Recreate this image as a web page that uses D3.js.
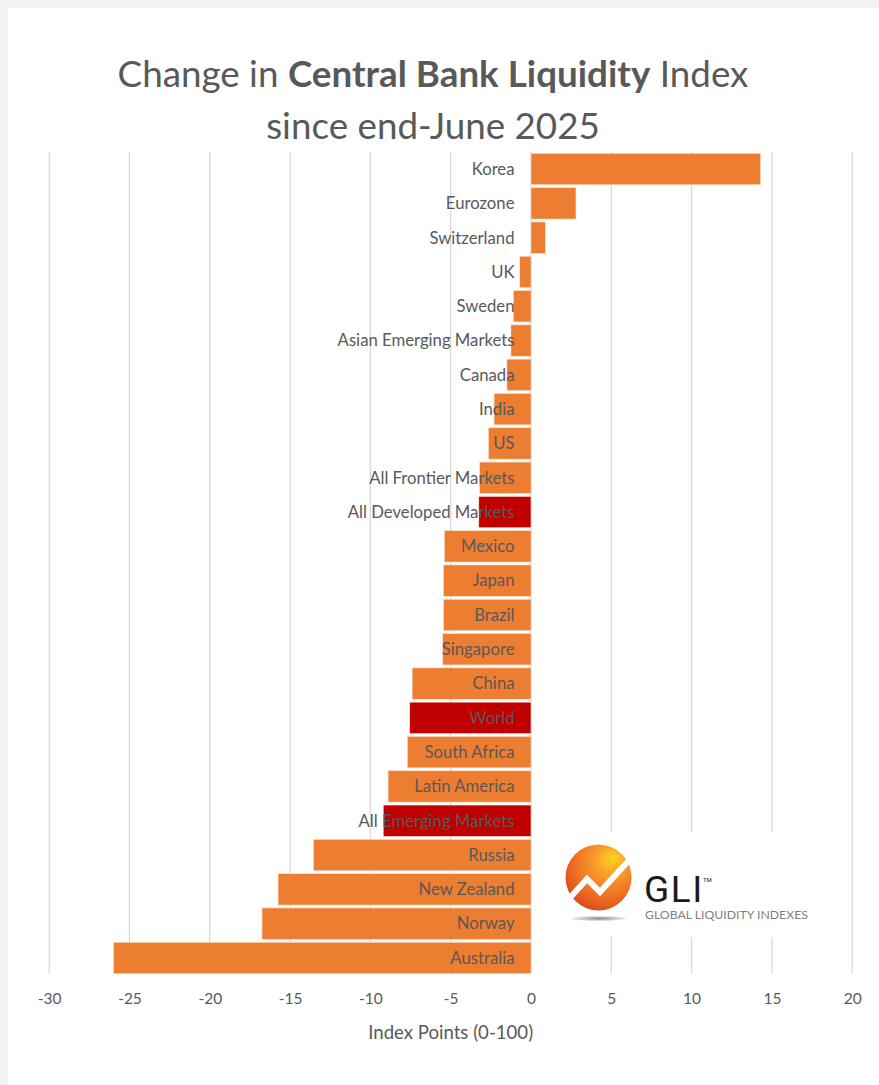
<!DOCTYPE html>
<html>
<head>
<meta charset="utf-8">
<script src="https://cdn.jsdelivr.net/npm/d3@7"></script>
<style>
  html, body { margin: 0; padding: 0; background: #f2f2f2; }
  svg { display: block; }
</style>
</head>
<body>
<svg id="chart" width="879" height="1085"></svg>
<script>
// Change in central bank liquidity index since end-June 2025 (index points, 0-100 scale)
const categories = [
  "Korea", "Eurozone", "Switzerland", "UK", "Sweden", "Asian Emerging Markets",
  "Canada", "India", "US", "All Frontier Markets", "All Developed Markets",
  "Mexico", "Japan", "Brazil", "Singapore", "China", "World", "South Africa",
  "Latin America", "All Emerging Markets", "Russia", "New Zealand", "Norway", "Australia"
];
const values = [
  14.3, 2.8, 0.9, -0.7, -1.1, -1.25,
  -1.5, -2.3, -2.65, -3.2, -3.25,
  -5.4, -5.45, -5.45, -5.5, -7.4, -7.55, -7.7,
  -8.9, -9.2, -13.55, -15.75, -16.75, -26.0
];
// Aggregate groupings are highlighted in dark red
const aggregates = ["All Developed Markets", "World", "All Emerging Markets"];
const xTicks = [-30, -25, -20, -15, -10, -5, 0, 5, 10, 15, 20];
const titleParts = [
  { text: "Change in ", bold: false },
  { text: "Central Bank Liquidity", bold: true },
  { text: " Index", bold: false }
];
const titleLine2 = "since end-June 2025";
const axisTitle = "Index Points (0-100)";

const W = 879, H = 1085;
const FONT = "Lato, 'Open Sans', sans-serif";
const TEXT = "#595959";
const ORANGE = "#ED7D31";
const RED = "#C00000";

const svg = d3.select("#chart");

// Chart panel
svg.append("rect").attr("x", 8).attr("y", 8).attr("width", W - 8).attr("height", H - 8).attr("fill", "#ffffff");

const x = d3.scaleLinear().domain([-30, 20]).range([49.2, 852.2]);
const y = d3.scaleBand().domain(categories).range([152, 975]).paddingInner(0.085).paddingOuter(0.04);
const gridTop = 152, gridBottom = 973.5;

// Helper: font size that makes a string a given width
function fitSize(str, weight, target, base) {
  const t = svg.append("text").attr("font-family", FONT).attr("font-weight", weight)
    .attr("font-size", base).text(str);
  const w = t.node().getComputedTextLength();
  t.remove();
  return base * target / w;
}

// Vertical gridlines
svg.append("g").selectAll("line").data(xTicks).join("line")
  .attr("x1", d => x(d)).attr("x2", d => x(d))
  .attr("y1", gridTop).attr("y2", gridBottom)
  .attr("stroke", "#d9d9d9").attr("stroke-width", 1.3);

// Bars
const data = categories.map((c, i) => ({ c, v: values[i] }));
svg.append("g").selectAll("rect").data(data).join("rect")
  .attr("x", d => x(Math.min(0, d.v)))
  .attr("width", d => Math.abs(x(d.v) - x(0)))
  .attr("y", d => y(d.c))
  .attr("height", y.bandwidth())
  .attr("fill", d => aggregates.includes(d.c) ? RED : ORANGE)
  .attr("stroke", "#fbe3d3").attr("stroke-width", 0.6);

// Category labels, right-aligned just left of zero
const labelSize = fitSize("Asian Emerging Markets", 400, 177, 16);
svg.append("g").selectAll("text").data(data).join("text")
  .attr("x", x(0) - 16.5)
  .attr("y", d => y(d.c) + y.bandwidth() / 2)
  .attr("dy", "0.35em")
  .attr("text-anchor", "end")
  .attr("font-family", FONT).attr("font-size", labelSize)
  .attr("fill", TEXT)
  .text(d => d.c);

// X axis tick labels
const axis = d3.axisBottom(x).tickValues(xTicks).tickSize(0).tickPadding(0).tickFormat(d3.format("d"));
const gAxis = svg.append("g").attr("transform", `translate(0, ${gridBottom})`).call(axis);
gAxis.select(".domain").remove();
gAxis.selectAll("text")
  .attr("y", 25).attr("dy", "0.35em")
  .attr("font-family", FONT).attr("font-size", 15.5).attr("fill", TEXT)
  .text(d => d < 0 ? "-" + Math.abs(d) : d);

// Axis title
const axisSize = fitSize(axisTitle, 400, 165, 16);
svg.append("text")
  .attr("x", (x(-30) + x(20)) / 2).attr("y", 1032).attr("dy", "0.35em")
  .attr("text-anchor", "middle")
  .attr("font-family", FONT).attr("font-size", axisSize).attr("fill", TEXT)
  .text(axisTitle);

// Title
const titleCx = 433;
function titleLine1(size) {
  const t = svg.append("text").attr("x", titleCx).attr("y", 87)
    .attr("text-anchor", "middle").attr("font-family", FONT)
    .attr("font-size", size).attr("fill", TEXT);
  t.selectAll("tspan").data(titleParts).join("tspan")
    .attr("font-weight", d => d.bold ? 700 : 400)
    .text(d => d.text);
  return t;
}
const probe = titleLine1(40);
const probeW = probe.node().getComputedTextLength();
probe.remove();
const titleSize = 40 * 631 / probeW;
titleLine1(titleSize);
svg.append("text").attr("x", titleCx).attr("y", 139)
  .attr("text-anchor", "middle").attr("font-family", FONT)
  .attr("font-size", titleSize).attr("fill", TEXT)
  .text(titleLine2);

// GLI logo
const logo = svg.append("g");
logo.append("rect").attr("x", 558).attr("y", 832).attr("width", 282).attr("height", 105).attr("fill", "#ffffff");
const defs = svg.append("defs");
const grad = defs.append("radialGradient").attr("id", "orb")
  .attr("cx", "0.62").attr("cy", "0.32").attr("r", "0.75")
  .attr("fx", "0.72").attr("fy", "0.2");
grad.append("stop").attr("offset", "0%").attr("stop-color", "#ffd321");
grad.append("stop").attr("offset", "30%").attr("stop-color", "#f9a02a");
grad.append("stop").attr("offset", "70%").attr("stop-color", "#ef6d22");
grad.append("stop").attr("offset", "100%").attr("stop-color", "#d6481a");
const shadow = defs.append("radialGradient").attr("id", "shadow");
shadow.append("stop").attr("offset", "0%").attr("stop-color", "#777").attr("stop-opacity", 0.9);
shadow.append("stop").attr("offset", "100%").attr("stop-color", "#999").attr("stop-opacity", 0.2);
logo.append("ellipse").attr("cx", 599).attr("cy", 918.5).attr("rx", 27).attr("ry", 2.6).attr("fill", "url(#shadow)");
logo.append("circle").attr("cx", 598.5).attr("cy", 877.5).attr("r", 33).attr("fill", "url(#orb)");
logo.append("path")
  .attr("d", "M566,902 L587,879 L600,892 L631,858")
  .attr("fill", "none").attr("stroke", "#ffffff").attr("stroke-width", 6)
  .attr("stroke-linejoin", "miter");
const gliSize = fitSize("GLI", 500, 56, 36);
logo.append("text").attr("x", 644).attr("y", 902)
  .attr("font-family", "Roboto, 'Open Sans', sans-serif").attr("font-weight", 400)
  .attr("font-size", 37).attr("fill", "#1a1a1a").attr("letter-spacing", 1.5)
  .text("GLI");
logo.append("text").attr("x", 703).attr("y", 882)
  .attr("font-family", "Roboto, sans-serif").attr("font-size", 6).attr("fill", "#1a1a1a")
  .text("TM");
const subSize = fitSize("GLOBAL LIQUIDITY INDEXES", 400, 163, 10);
logo.append("text").attr("x", 645).attr("y", 915).attr("dy", "0.35em")
  .attr("font-family", FONT).attr("font-size", subSize).attr("fill", "#7f7f7f")
  .text("GLOBAL LIQUIDITY INDEXES");
</script>
</body>
</html>
